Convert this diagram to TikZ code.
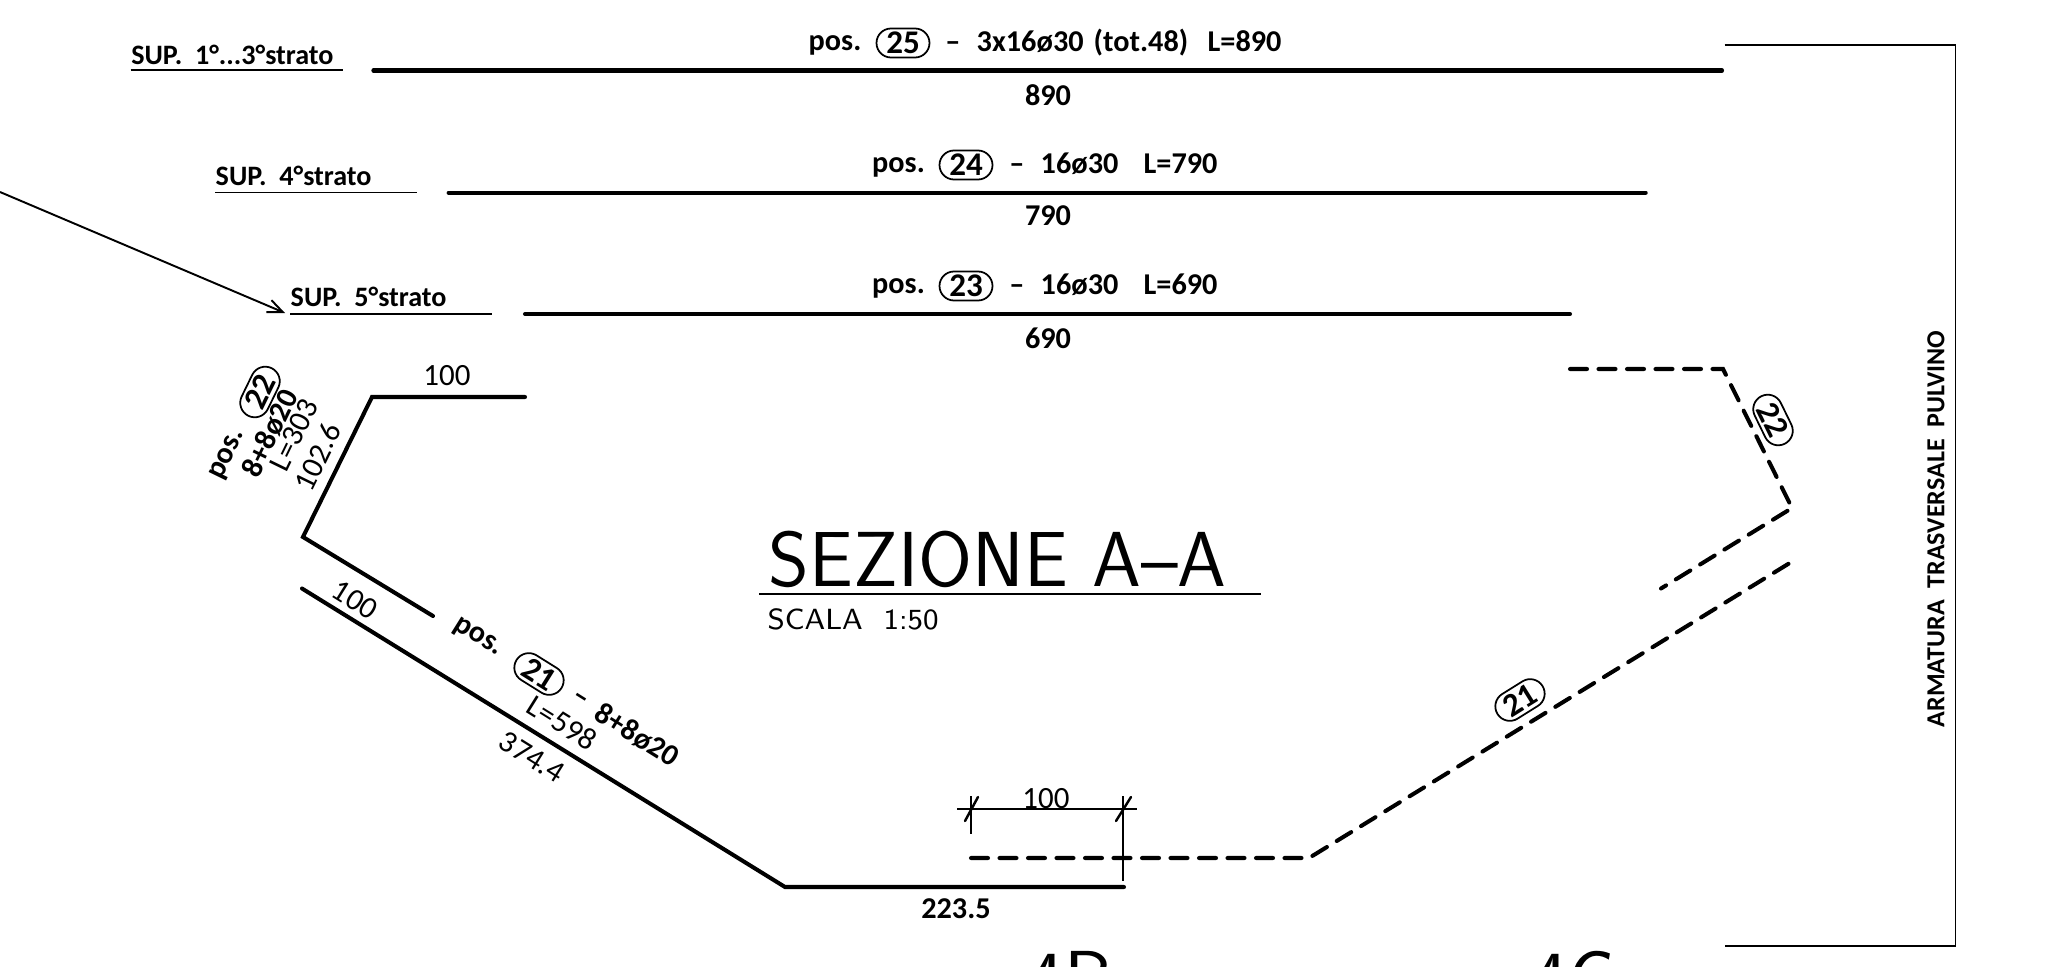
\documentclass[tikz,border=0pt]{standalone}
\usepackage{fontspec}
\setmainfont{Carlito}
\usepackage{tikz}
\usetikzlibrary{shapes.misc,arrows.meta}
\tikzset{
  bar/.style={line width=1.15pt, line cap=round, line join=miter},
  dashbar/.style={bar, line cap=round, dash pattern=on 0.17cm off 0.115cm},
  thinline/.style={line width=0.45pt},
  lab/.style={inner sep=0, font=\fontsize{8.6}{10}\selectfont\bfseries},
  suplab/.style={inner sep=0, anchor=base west, font=\fontsize{8}{10}\selectfont\bfseries},
  dimlab/.style={inner sep=0, font=\fontsize{8.8}{10}\selectfont},
  posbox/.style={draw, line width=0.5pt, rounded rectangle, inner sep=0, minimum width=0.53cm, minimum height=0.29cm, font=\fontsize{9.4}{10}\selectfont\bfseries},
  big/.style={inner sep=0, font=\sffamily\fontsize{22.2}{26}\selectfont}
}

\begin{document}
\begin{tikzpicture}[y=-1cm]
  \useasboundingbox (0,0) rectangle (20.69,9.67);
  \clip (0,0) rectangle (20.69,9.67);

  \draw[thinline] (1.306,0.70) -- (3.43,0.70);
  \draw[thinline] (2.15,1.926) -- (4.17,1.926);
  \draw[thinline] (2.90,3.14) -- (4.92,3.14);
  \draw[bar] (3.734,0.705) -- (17.22,0.705);
  \draw[bar] (4.486,1.926) -- (16.457,1.926);
  \draw[bar] (5.25,3.14) -- (15.70,3.14);
  \draw[thinline] (17.245,0.45) -- (19.555,0.45) -- (19.555,9.46) -- (17.245,9.46);
  \draw[line width=0.55pt, -{Straight Barb[length=1.5mm,width=1.3mm]}] (0,1.92) -- (2.85,3.13);

  \node[suplab] (sup1) at (1.306,0.645) {SUP.\ \ 1°...3°strato};
  \node[suplab] (sup4) at (2.15,1.85) {SUP.\ \ 4°strato};
  \node[suplab] (sup5) at (2.90,3.06) {SUP.\ \ 5°strato};

  \node[lab] (pos25) at (8.35,0.45) {pos.};
  \node[posbox] (box25) at (9.03,0.43) {25};
  \node[lab] (dash25) at (9.53,0.47) {–};
  \node[lab, anchor=base west] (num25) at (9.76,0.515) {3x16ø30};
  \node[lab, anchor=base west] (tot25) at (10.93,0.515) {(tot.48)};
  \node[lab, anchor=base west] (len25) at (12.07,0.515) {L=890};
  \node[lab] (dim890) at (10.48,0.95) {890};

  \node[lab] (pos24) at (8.985,1.67) {pos.};
  \node[posbox] (box24) at (9.66,1.65) {24};
  \node[lab] (dash24) at (10.17,1.69) {–};
  \node[lab, anchor=base west] (num24) at (10.40,1.73) {16ø30};
  \node[lab, anchor=base west] (len24) at (11.43,1.73) {L=790};
  \node[lab] (dim790) at (10.48,2.16) {790};

  \node[lab] (pos23) at (8.985,2.88) {pos.};
  \node[posbox] (box23) at (9.66,2.86) {23};
  \node[lab] (dash23) at (10.17,2.90) {–};
  \node[lab, anchor=base west] (num23) at (10.40,2.94) {16ø30};
  \node[lab, anchor=base west] (len23) at (11.43,2.94) {L=690};
  \node[lab] (dim690) at (10.48,3.38) {690};

  \draw[bar] (5.25,3.97) -- (3.72,3.97) -- (3.03,5.37) -- (4.33,6.16);
  \draw[bar] (3.02,5.885) -- (7.85,8.87) -- (11.24,8.87);
  \draw[dashbar] (9.71,8.58) -- (13.09,8.58) -- (17.93,5.61);
  \draw[dashbar] (15.70,3.69) -- (17.23,3.69) -- (17.92,5.08) -- (16.61,5.885);

  \draw[thinline] (9.57,8.09) -- (11.37,8.09);
  \draw[thinline] (9.71,7.96) -- (9.71,8.34);
  \draw[thinline] (11.23,7.96) -- (11.23,8.81);
  \draw[bar, line width=0.7pt] (9.65,8.21) -- (9.78,7.97);
  \draw[bar, line width=0.7pt] (11.16,8.21) -- (11.31,7.97);

  \node[dimlab] (dimtop) at (4.47,3.76) {100};
  \node[dimlab] (dimdown) at (10.46,7.99) {100};
  \node[lab] (dimflat) at (9.56,9.09) {223.5};
  \node[dimlab, rotate=-32] (dimhook) at (3.55,6.00) {100};
  \node[dimlab, rotate=-32] (dimslope) at (5.32,7.57) {374.4};
  \node[dimlab, rotate=64] (dimside) at (3.175,4.57) {102.6};

  \node[posbox, rotate=64] (box22) at (2.60,3.92) {22};
  \node[lab, rotate=64] (pos22) at (2.28,4.55) {pos.};
  \node[lab, rotate=64] (num22) at (2.70,4.33) {8+8ø20};
  \node[dimlab, rotate=64] (len22) at (2.94,4.35) {L=303};

  \node[lab, rotate=-32] (pos21) at (4.775,6.38) {pos.};
  \node[posbox, rotate=-32] (box21) at (5.39,6.74) {21};
  \node[lab, rotate=-32] (dash21) at (5.79,7.00) {–};
  \node[lab, rotate=-32] (num21) at (6.375,7.35) {8+8ø20};
  \node[dimlab, rotate=-32] (len21) at (5.625,7.23) {L=598};

  \node[posbox, rotate=-64] (box22r) at (17.73,4.20) {22};
  \node[posbox, rotate=32] (box21r) at (15.20,7.00) {21};

  \node[lab, rotate=90, font=\fontsize{7.4}{10}\selectfont\bfseries] (armatura) at (19.36,5.29) {ARMATURA\ \ TRASVERSALE\ \ PULVINO};

  \node[big, anchor=base west] (title) at (7.68,5.86) {SEZIONE A–A};
  \draw[thinline] (7.59,5.94) -- (12.61,5.94);
  \node[inner sep=0, anchor=base west, font=\sffamily\fontsize{8.3}{11}\selectfont] (scale) at (7.67,6.29) {SCALA\ \ 1:50};

  \node[big, anchor=base west] (cut4b) at (10.27,10.05) {4B};
  \node[big, anchor=base west] (cut4c) at (15.31,10.05) {4C};
\end{tikzpicture}
\end{document}
